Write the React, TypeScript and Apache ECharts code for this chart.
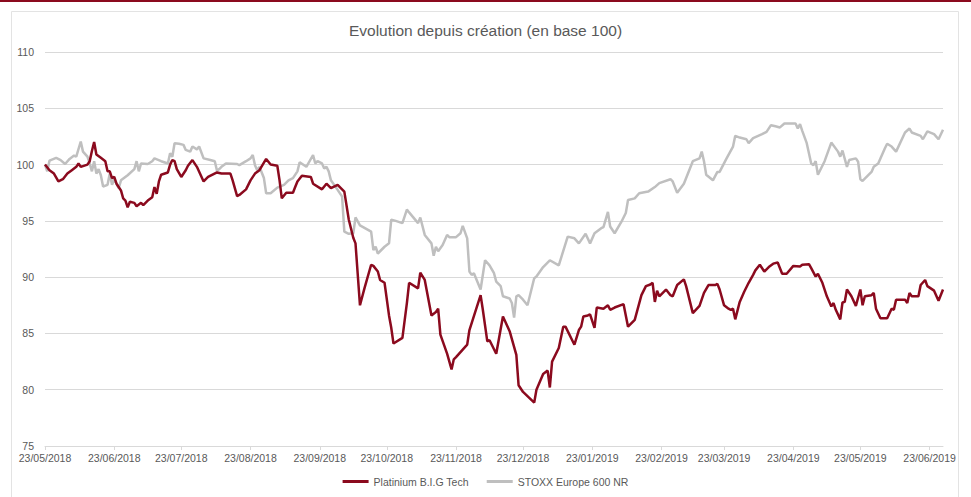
import React, { useEffect, useRef } from "react";
import * as echarts from "echarts";

// Launch date of the fund (base 100)
const launchDate = "23/05/2018";

// x-axis tick labels (one per month)
const monthTicks = [
  "23/05/2018", "23/06/2018", "23/07/2018", "23/08/2018", "23/09/2018",
  "23/10/2018", "23/11/2018", "23/12/2018", "23/01/2019", "23/02/2019",
  "23/03/2019", "23/04/2019", "23/05/2019", "23/06/2019",
];

const yTicksMin = 75;
const yTicksMax = 110;
const yTickStep = 5;

const seriesNames = ["Platinium B.I.G Tech", "STOXX Europe 600 NR"];

// [days since launch, value in base 100]
const platinium: [number, number][] = [
  [0, 100.0], [2, 99.5], [4, 99.2], [6, 98.5], [8, 98.7], [10, 99.2], [12, 99.5], [14, 99.8],
  [15, 100.1], [16, 99.8], [19, 100.0], [20, 100.3], [21, 101.2], [22, 102.0], [23, 100.9],
  [25, 100.6], [27, 100.3], [28, 99.4], [29, 99.4], [30, 98.8], [31, 98.9], [32, 98.3],
  [34, 97.7], [35, 97.0], [36, 96.8], [37, 96.2], [38, 96.7], [40, 96.6], [41, 96.3],
  [43, 96.6], [44, 96.4], [46, 96.8], [48, 97.1], [49, 98.0], [50, 97.4], [51, 98.5],
  [52, 99.1], [55, 99.3], [56, 100.0], [57, 100.4], [58, 100.3], [59, 99.6], [61, 98.9],
  [63, 99.5], [64, 99.9], [66, 100.4], [68, 99.8], [71, 98.5], [73, 98.9], [77, 99.3],
  [79, 99.2], [83, 99.2], [84, 98.6], [86, 97.2], [87, 97.3], [90, 97.8], [92, 98.6],
  [94, 99.2], [96, 99.5], [99, 100.5], [101, 100.0], [104, 99.9], [105, 98.6], [106, 97.0],
  [108, 97.5], [111, 97.5], [112, 98.0], [113, 98.5], [115, 99.0], [119, 98.9], [120, 98.3],
  [124, 97.8], [126, 98.3], [128, 97.9], [131, 98.2], [134, 97.6], [136, 95.1], [138, 93.5],
  [139, 93.0], [141, 87.5], [143, 89.0], [146, 91.1], [147, 91.0], [149, 90.5], [150, 89.75],
  [152, 89.5], [154, 86.6], [155, 85.5], [156, 84.1], [160, 84.6], [162, 87.7], [163, 89.5],
  [167, 89.0], [168, 90.4], [170, 89.75], [173, 86.6], [175, 86.9], [176, 87.2], [177, 84.9],
  [180, 83.2], [182, 81.8], [183, 82.7], [184, 82.9], [189, 84.0], [190, 85.3], [195, 88.4],
  [196, 87.1], [198, 84.3], [199, 84.4], [202, 83.2], [205, 86.5], [208, 85.2], [211, 83.1],
  [212, 80.4], [214, 79.8], [219, 78.85], [220, 80.0], [223, 81.4], [225, 81.7], [226, 80.2],
  [227, 82.5], [230, 83.7], [232, 85.6], [233, 85.6], [237, 84.0], [239, 85.3], [240, 85.6],
  [241, 86.5], [243, 86.6], [244, 86.7], [246, 85.5], [247, 87.3], [250, 87.2], [252, 87.5],
  [253, 87.1], [255, 87.3], [259, 87.6], [261, 85.6], [264, 86.2], [267, 88.4], [269, 89.2],
  [271, 89.35], [272, 89.5], [273, 87.8], [274, 88.8], [275, 88.3], [278, 88.9], [280, 88.4],
  [281, 88.3], [283, 89.3], [286, 89.8], [287, 89.2], [290, 86.8], [293, 87.45], [295, 88.6],
  [297, 89.3], [300, 89.3], [301, 89.4], [302, 88.9], [304, 87.5], [306, 87.2], [307, 87.1],
  [308, 87.2], [309, 86.25], [311, 87.8], [313, 88.7], [315, 89.5], [317, 90.2], [318, 90.6],
  [320, 91.1], [322, 90.5], [324, 90.9], [326, 91.2], [328, 91.3], [330, 90.3], [332, 90.3],
  [335, 91.0], [338, 90.95], [339, 91.1], [342, 91.15], [343, 90.8], [345, 90.05], [346, 90.3],
  [348, 89.5], [350, 88.3], [352, 87.4], [353, 87.7], [354, 87.1], [356, 86.25], [357, 87.75],
  [358, 87.8], [359, 88.9], [361, 88.3], [363, 87.45], [365, 88.9], [366, 87.5], [367, 88.3],
  [370, 88.4], [371, 88.6], [372, 87.2], [374, 86.35], [377, 86.35], [379, 87.2], [380, 87.1],
  [381, 88.0], [385, 88.0], [386, 87.7], [387, 88.6], [388, 88.3], [391, 88.3], [392, 89.3],
  [394, 89.75], [395, 89.2], [398, 88.8], [400, 87.9], [402, 88.9],
];

const stoxx: [number, number][] = [
  [0, 100.0], [1, 99.4], [2, 100.35], [5, 100.6], [7, 100.4], [9, 100.05], [11, 100.5],
  [13, 100.8], [14, 100.7], [16, 102.05], [17, 101.15], [19, 100.7], [20, 100.1], [21, 99.4],
  [22, 100.3], [23, 99.2], [24, 99.6], [25, 99.05], [26, 98.05], [28, 98.2], [29, 99.2],
  [30, 98.2], [31, 98.7], [33, 97.9], [34, 98.6], [37, 99.05], [40, 99.6], [41, 100.3],
  [42, 99.4], [43, 100.1], [46, 100.05], [48, 100.3], [49, 100.55], [52, 100.3], [55, 100.1],
  [56, 101.0], [57, 100.7], [58, 101.9], [60, 101.85], [62, 101.75], [63, 101.3], [65, 101.15],
  [66, 101.6], [68, 101.35], [69, 101.6], [71, 100.55], [74, 100.4], [76, 100.3], [77, 99.45],
  [78, 99.6], [79, 99.8], [81, 100.1], [86, 100.05], [87, 99.95], [90, 100.3], [92, 100.55],
  [93, 100.85], [94, 99.95], [95, 99.5], [96, 99.8], [98, 98.8], [99, 97.45], [101, 97.45],
  [104, 97.95], [107, 98.2], [109, 98.6], [111, 98.8], [113, 99.4], [114, 100.2], [117, 99.8],
  [120, 100.85], [121, 100.1], [122, 100.3], [124, 100.1], [125, 99.65], [126, 99.8],
  [127, 99.4], [128, 98.6], [131, 97.75], [133, 97.15], [134, 94.05], [136, 93.85], [138, 93.9],
  [139, 95.3], [141, 94.6], [146, 94.05], [147, 92.4], [148, 92.7], [149, 92.1], [152, 92.7],
  [154, 93.0], [155, 95.1], [157, 95.0], [160, 94.8], [162, 96.0], [163, 95.75], [167, 94.8],
  [168, 95.3], [170, 93.75], [173, 93.0], [174, 91.9], [175, 92.7], [176, 92.3], [178, 92.85],
  [180, 93.75], [181, 93.55], [184, 93.55], [186, 93.9], [187, 94.55], [189, 93.45], [190, 90.5],
  [191, 90.2], [192, 90.35], [195, 88.9], [197, 91.5], [199, 91.05], [201, 90.35], [202, 89.6],
  [204, 89.2], [205, 88.3], [208, 88.1], [209, 87.7], [210, 86.4], [211, 88.3], [212, 88.4],
  [214, 88.0], [216, 87.5], [219, 89.9], [220, 90.05], [223, 90.9], [226, 91.5], [230, 91.05],
  [234, 93.6], [237, 93.45], [239, 93.0], [242, 93.85], [244, 93.0], [246, 93.9], [249, 94.35],
  [250, 94.45], [252, 95.8], [253, 94.5], [255, 93.9], [258, 94.9], [260, 95.7], [261, 96.85],
  [264, 97.0], [266, 97.45], [270, 97.6], [273, 98.0], [275, 98.35], [280, 98.7], [281, 98.5],
  [283, 97.5], [286, 98.3], [290, 100.3], [293, 100.55], [294, 101.15], [295, 100.3], [296, 99.1],
  [299, 98.6], [301, 99.35], [302, 99.35], [305, 100.5], [308, 101.6], [309, 102.55], [311, 102.4],
  [314, 102.25], [315, 101.9], [317, 102.35], [321, 102.7], [323, 102.9], [325, 103.5],
  [327, 103.4], [329, 103.3], [331, 103.65], [336, 103.65], [337, 103.2], [338, 103.6],
  [339, 103.0], [341, 101.9], [343, 100.1], [344, 99.95], [345, 100.3], [346, 99.1], [349, 100.3],
  [352, 101.95], [355, 101.15], [356, 100.7], [357, 101.25], [359, 99.8], [360, 100.4],
  [363, 100.55], [364, 100.25], [365, 98.7], [366, 98.55], [370, 99.35], [371, 99.8], [373, 100.1],
  [376, 101.45], [377, 101.85], [379, 101.6], [381, 101.15], [385, 102.85], [387, 103.2],
  [388, 102.85], [392, 102.55], [393, 102.25], [395, 102.95], [398, 102.7], [400, 102.25],
  [402, 103.1],
];

function parseFr(s: string): Date {
  const [d, m, y] = s.split("/").map(Number);
  return new Date(y, m - 1, d);
}

const launch = parseFr(launchDate);
function dayToTime(day: number): number {
  return new Date(launch.getFullYear(), launch.getMonth(), launch.getDate() + day).getTime();
}
function pad(n: number) {
  return n < 10 ? "0" + n : "" + n;
}
function fmt(t: number) {
  const d = new Date(t);
  return pad(d.getDate()) + "/" + pad(d.getMonth() + 1) + "/" + d.getFullYear();
}

export default function App() {
  const ref = useRef<HTMLDivElement>(null);

  useEffect(() => {
    if (!ref.current) return;
    const chart = echarts.init(ref.current, null, { renderer: "svg" });
    const tickTimes = monthTicks.map((s) => parseFr(s).getTime());
    const lastDay = Math.max(
      platinium[platinium.length - 1][0],
      stoxx[stoxx.length - 1][0]
    );
    const txt = "#595959";
    const font = "Liberation Sans, Arial, sans-serif";

    chart.setOption({
      animation: false,
      backgroundColor: "#ffffff",
      title: {
        text: "Evolution depuis création (en base 100)",
        left: "center",
        top: 17,
        textStyle: { color: txt, fontSize: 15.5, fontWeight: "normal", fontFamily: font },
      },
      legend: {
        bottom: 5,
        left: "center",
        itemWidth: 26,
        itemHeight: 3,
        itemGap: 18,
        icon: "rect",
        textStyle: { color: txt, fontSize: 10.5, fontFamily: font },
        data: seriesNames,
      },
      graphic: [
        {
          type: "rect",
          left: 0,
          top: 0,
          shape: { width: 971, height: 2 },
          style: { fill: "#8B0A1E" },
          silent: true,
        },
        {
          type: "rect",
          left: 9,
          top: 9,
          shape: { width: 947, height: 500 },
          style: { fill: "none", stroke: "#E3E3E3", lineWidth: 1 },
          silent: true,
        },
      ],
      grid: { left: 45, right: 28, top: 52, bottom: 51 },
      xAxis: {
        type: "value",
        min: dayToTime(0),
        max: dayToTime(lastDay),
        scale: true,
        splitLine: { show: false },
        axisLine: { lineStyle: { color: "#D9D9D9", width: 1 } },
        axisTick: {
          show: true,
          length: 4,
          lineStyle: { color: "#D9D9D9" },
          customValues: tickTimes,
        },
        axisLabel: {
          color: txt,
          fontSize: 10.5,
          fontFamily: font,
          margin: 6,
          customValues: tickTimes,
          formatter: (v: number) => fmt(v),
          hideOverlap: false,
        },
      },
      yAxis: {
        type: "value",
        min: yTicksMin,
        max: yTicksMax,
        interval: yTickStep,
        axisLine: { show: false },
        axisTick: { show: false },
        splitLine: { lineStyle: { color: "#D9D9D9", width: 1 } },
        axisLabel: { color: txt, fontSize: 10.5, fontFamily: font, margin: 11 },
      },
      series: [
        {
          name: seriesNames[0],
          type: "line",
          data: platinium.map(([d, v]) => [dayToTime(d), v]),
          showSymbol: false,
          symbol: "none",
          z: 3,
          lineStyle: { color: "#8B0A1E", width: 2.5 },
          itemStyle: { color: "#8B0A1E" },
        },
        {
          name: seriesNames[1],
          type: "line",
          data: stoxx.map(([d, v]) => [dayToTime(d), v]),
          showSymbol: false,
          symbol: "none",
          z: 2,
          lineStyle: { color: "#BFBFBF", width: 2.5 },
          itemStyle: { color: "#BFBFBF" },
        },
      ],
    });
    return () => chart.dispose();
  }, []);

  return (
    <div
      ref={ref}
      style={{ position: "fixed", left: 0, top: 0, width: 971, height: 497 }}
    />
  );
}
